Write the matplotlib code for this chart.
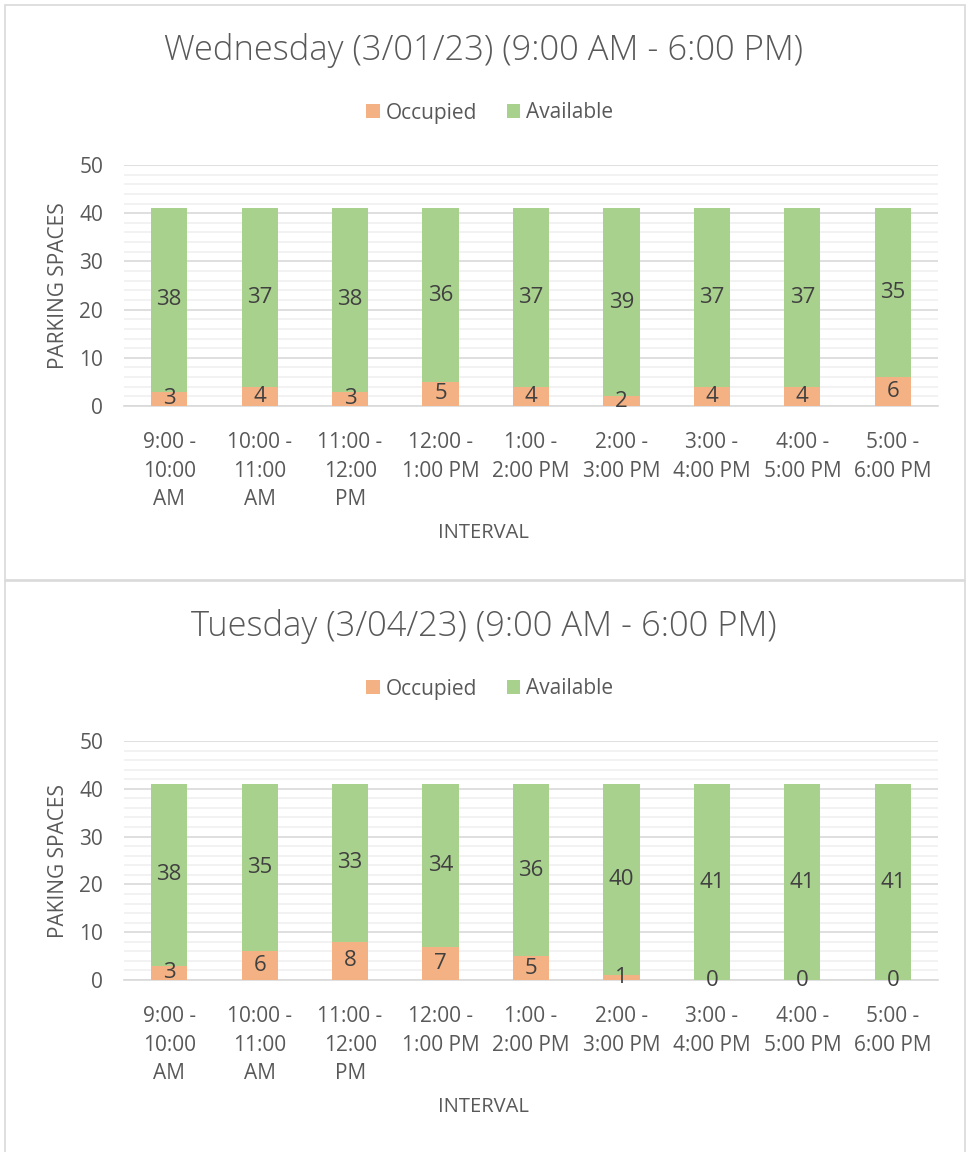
import matplotlib
matplotlib.use("Agg")
import matplotlib.pyplot as plt
from matplotlib.patches import Rectangle
from matplotlib.ticker import MultipleLocator
import numpy as np

plt.rcParams['font.family'] = ['Open Sans', 'DejaVu Sans']

categories = ["9:00 -\n10:00\nAM", "10:00 -\n11:00\nAM", "11:00 -\n12:00\nPM",
              "12:00 -\n1:00 PM", "1:00 -\n2:00 PM", "2:00 -\n3:00 PM",
              "3:00 -\n4:00 PM", "4:00 -\n5:00 PM", "5:00 -\n6:00 PM"]

wed_occupied = [3, 4, 3, 5, 4, 2, 4, 4, 6]
wed_available = [38, 37, 38, 36, 37, 39, 37, 37, 35]
tue_occupied = [3, 6, 8, 7, 5, 1, 0, 0, 0]
tue_available = [38, 35, 33, 34, 36, 40, 41, 41, 41]

titles = ["Wednesday (3/01/23) (9:00 AM - 6:00 PM)", "Tuesday (3/04/23) (9:00 AM - 6:00 PM)"]
ylabels = ["PARKING SPACES", "PAKING SPACES"]
xlabel = "INTERVAL"
series_names = ["Occupied", "Available"]

C_OCC = "#F4B183"
C_AVA = "#A9D18E"
TXT = "#595959"
LBL = "#404040"

W, H = 967, 1152
fig = plt.figure(figsize=(W / 100, H / 100), dpi=100)

def fx(px):
    return px / W

def fy(py):
    return 1 - py / H

# chart borders
fig.patches.append(Rectangle((fx(5), fy(580)), fx(960), 575 / H, transform=fig.transFigure,
                             fill=False, edgecolor="#D9D9D9", linewidth=1.2))
fig.patches.append(Rectangle((fx(5), fy(1160)), fx(960), 579 / H, transform=fig.transFigure,
                             fill=False, edgecolor="#D9D9D9", linewidth=1.2))

panels = [
    dict(occ=wed_occupied, ava=wed_available, top=165, bot=406, title_y=50, leg_y=113,
         xl_y=533, title=titles[0], ylabel=ylabels[0]),
    dict(occ=tue_occupied, ava=tue_available, top=741, bot=980, title_y=627, leg_y=689,
         xl_y=1107, title=titles[1], ylabel=ylabels[1]),
]

x = np.arange(len(categories))
for p in panels:
    ax = fig.add_axes([fx(124), fy(p["bot"]), fx(938 - 124), (p["bot"] - p["top"]) / H])
    occ = np.array(p["occ"])
    ava = np.array(p["ava"])
    b1 = ax.bar(x, occ, width=0.4, color=C_OCC, label=series_names[0], zorder=3)
    b2 = ax.bar(x, ava, width=0.4, bottom=occ, color=C_AVA, label=series_names[1], zorder=3)
    for xi, o, a in zip(x, occ, ava):
        ax.text(xi, o / 2, str(o), ha="center", va="center", fontsize=16, color=LBL, zorder=4)
        ax.text(xi, o + a / 2, str(a), ha="center", va="center", fontsize=16, color=LBL, zorder=4)
    ax.set_xlim(-0.5, len(categories) - 0.5)
    ax.set_ylim(0, 50)
    ax.yaxis.set_major_locator(MultipleLocator(10))
    ax.yaxis.set_minor_locator(MultipleLocator(2))
    ax.grid(axis="y", which="major", color="#D9D9D9", linewidth=1.2, zorder=0)
    ax.grid(axis="y", which="minor", color="#F0F0F0", linewidth=1.2, zorder=0)
    for s in ["top", "right", "left"]:
        ax.spines[s].set_visible(False)
    ax.spines["bottom"].set_color("#D9D9D9")
    ax.spines["bottom"].set_linewidth(1.2)
    ax.tick_params(axis="both", which="both", length=0, labelsize=15, labelcolor=TXT)
    ax.tick_params(axis="y", pad=15)
    ax.tick_params(axis="x", pad=19)
    ax.set_xticks(x)
    ax.set_xticklabels(categories, linespacing=1.45)
    ax.set_ylabel(p["ylabel"], fontsize=15, color=TXT)
    ax.yaxis.set_label_coords(fx(69 - 124) / fx(938 - 124), 0.5)
    fig.text(0.5, fy(p["title_y"]), p["title"], ha="center", va="center", fontsize=24.8,
             color=TXT, fontweight="light")
    fig.text(0.5, fy(p["xl_y"]), xlabel, ha="center", va="center", fontsize=14.5, color=TXT)
    ax.legend(handles=[b1, b2], loc="center", bbox_to_anchor=(fx(490), fy(p["leg_y"])),
              bbox_transform=fig.transFigure, ncol=2, frameon=False, fontsize=15,
              labelcolor=TXT, handlelength=0.65, handleheight=0.65, handletextpad=0.3,
              columnspacing=1.4)

fig.savefig("out.png", dpi=100, facecolor="white")
